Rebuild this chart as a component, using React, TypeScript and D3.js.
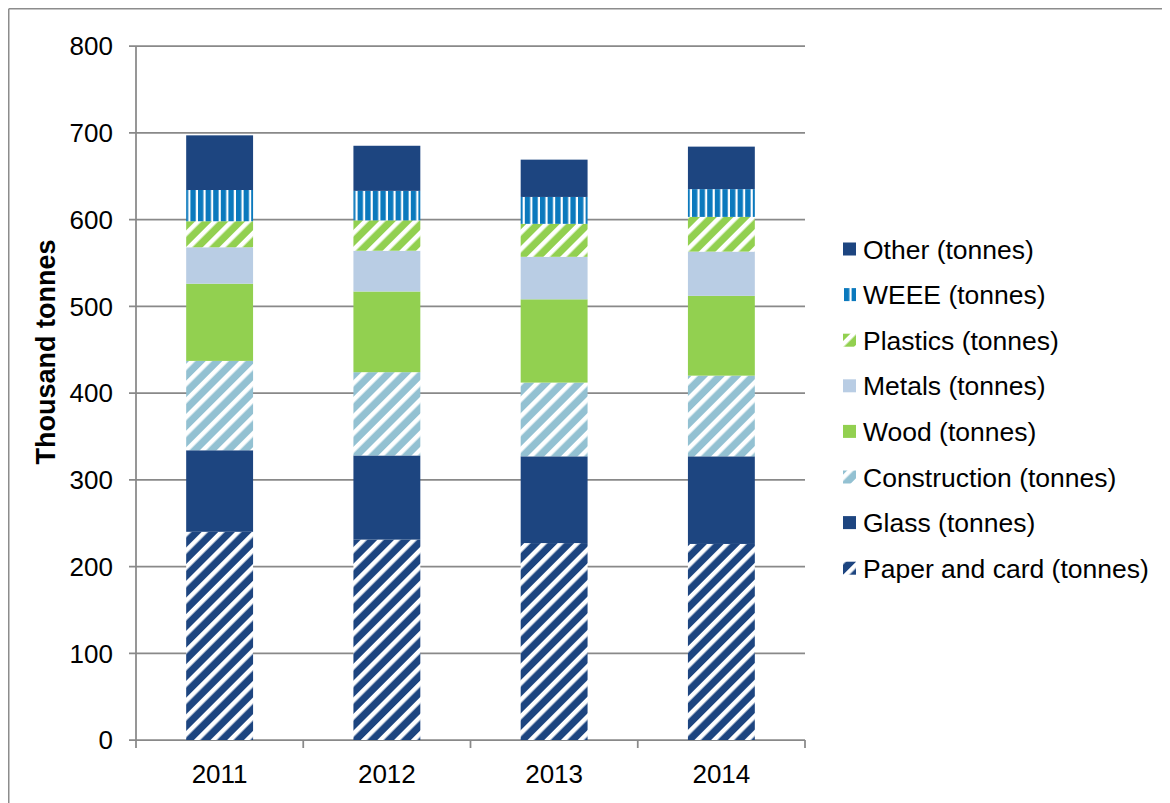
import React from "react";
import * as d3 from "d3";

const years = ["2011", "2012", "2013", "2014"];
const seriesNames = [
  "Paper and card (tonnes)",
  "Glass (tonnes)",
  "Construction (tonnes)",
  "Wood (tonnes)",
  "Metals (tonnes)",
  "Plastics (tonnes)",
  "WEEE (tonnes)",
  "Other (tonnes)",
];
const paper = [240, 231, 227, 226];
const glass = [94, 97, 100, 101];
const construction = [103, 96, 85, 93];
const wood = [89, 93, 96, 92];
const metals = [42, 47, 49, 51];
const plastics = [30, 35, 38, 40];
const weee = [36, 34, 31, 32];
const other = [63, 52, 43, 49];
const yTicks = [0, 100, 200, 300, 400, 500, 600, 700, 800];

const seriesValues = [paper, glass, construction, wood, metals, plastics, weee, other];
const fills = [
  "url(#pPaper)",
  "#1d4580",
  "url(#pConstr)",
  "#92d050",
  "#b9cde4",
  "url(#pPlastic)",
  "url(#pWeee)",
  "#1d4580",
];

const W = 1162;
const H = 795;
const OX = 8; // svg offset from page
const left = 136 - OX;
const right = 805 - OX;
const top = 46 - OX;
const bottom = 740 - OX;
const FONT = "'Liberation Sans', Arial, sans-serif";

export default function App() {
  const x = d3.scaleBand<string>().domain(years).range([left, right]).paddingInner(0.6).paddingOuter(0.3);
  const y = d3.scaleLinear().domain([0, 800]).range([bottom, top]);
  const rows = years.map((yr, i) => {
    const o: any = { year: yr };
    seriesNames.forEach((s, k) => (o[s] = seriesValues[k][i]));
    return o;
  });
  const stack = d3.stack<any>().keys(seriesNames)(rows);
  const step = x.step();
  const xBounds = d3.range(years.length + 1).map((i) => left + i * step);
  const legendOrder = [...seriesNames].reverse();
  const legendY0 = 249 - OX;
  const legendGap = 45.6;

  return (
    <svg width={W} height={H} style={{ display: "block" }} fontFamily={FONT}>
      <defs>
        <pattern id="pPaper" patternUnits="userSpaceOnUse" width={11.8} height={10} patternTransform="rotate(45)">
          <rect width={11.8} height={10} fill="#1d4580" />
          <rect width={4.5} height={10} fill="#ffffff" />
        </pattern>
        <pattern id="pConstr" patternUnits="userSpaceOnUse" width={11.8} height={10} patternTransform="rotate(45)">
          <rect width={11.8} height={10} fill="#93c1d2" />
          <rect width={4.5} height={10} fill="#ffffff" />
        </pattern>
        <pattern id="pPlastic" patternUnits="userSpaceOnUse" width={11.8} height={10} patternTransform="rotate(45)">
          <rect width={11.8} height={10} fill="#92d050" />
          <rect width={4.5} height={10} fill="#ffffff" />
        </pattern>
        <pattern id="pWeee" patternUnits="userSpaceOnUse" width={7.6} height={10}>
          <rect width={7.6} height={10} fill="#0b79bd" />
          <rect x={5.4} width={2.2} height={10} fill="#ffffff" />
        </pattern>
      </defs>
      <rect x={0} y={0} width={W} height={H} fill="#ffffff" />
      {/* outer border (top + left visible) */}
      <line x1={0.75} y1={0.75} x2={W} y2={0.75} stroke="#8c8c8c" strokeWidth={1.5} />
      <line x1={0.75} y1={0.75} x2={0.75} y2={H} stroke="#8c8c8c" strokeWidth={1.5} />

      {/* gridlines */}
      {yTicks.map((t) => (
        <line key={"g" + t} x1={left - 7} x2={right} y1={y(t)} y2={y(t)} stroke="#898989" strokeWidth={1.75} />
      ))}
      {/* y axis */}
      <line x1={left} x2={left} y1={top} y2={bottom} stroke="#898989" strokeWidth={1.75} />
      {yTicks.map((t) => (
        <text key={"yt" + t} x={left - 23} y={y(t)} dy="0.36em" textAnchor="end" fontSize={26} fill="#000">
          {t}
        </text>
      ))}
      {/* x axis ticks */}
      {xBounds.map((bx, i) => (
        <line key={"xt" + i} x1={bx} x2={bx} y1={bottom} y2={bottom + 8} stroke="#898989" strokeWidth={1.75} />
      ))}

      {/* bars */}
      {stack.map((layer, k) => (
        <g key={"s" + k} fill={fills[k]}>
          {layer.map((d, i) => (
            <rect
              key={i}
              x={x(years[i])}
              width={x.bandwidth()}
              y={y(d[1])}
              height={y(d[0]) - y(d[1])}
            />
          ))}
        </g>
      ))}

      {years.map((yr) => (
        <text key={"xl" + yr} x={(x(yr) as number) + x.bandwidth() / 2} y={783 - OX} textAnchor="middle" fontSize={26} fill="#000">
          {yr}
        </text>
      ))}

      <text
        transform={`translate(${55 - OX},${352 - OX}) rotate(-90)`}
        textAnchor="middle"
        fontSize={27}
        fontWeight="bold"
        fill="#000"
      >
        Thousand tonnes
      </text>

      {/* legend */}
      {legendOrder.map((name, i) => {
        const k = seriesNames.indexOf(name);
        const cy = legendY0 + i * legendGap;
        return (
          <g key={"lg" + name}>
            <rect x={843 - OX} y={cy - 6.5} width={13} height={13} fill={fills[k]} />
            <text x={863 - OX} y={cy} dy="0.36em" fontSize={26.5} fill="#000">
              {name}
            </text>
          </g>
        );
      })}
    </svg>
  );
}
